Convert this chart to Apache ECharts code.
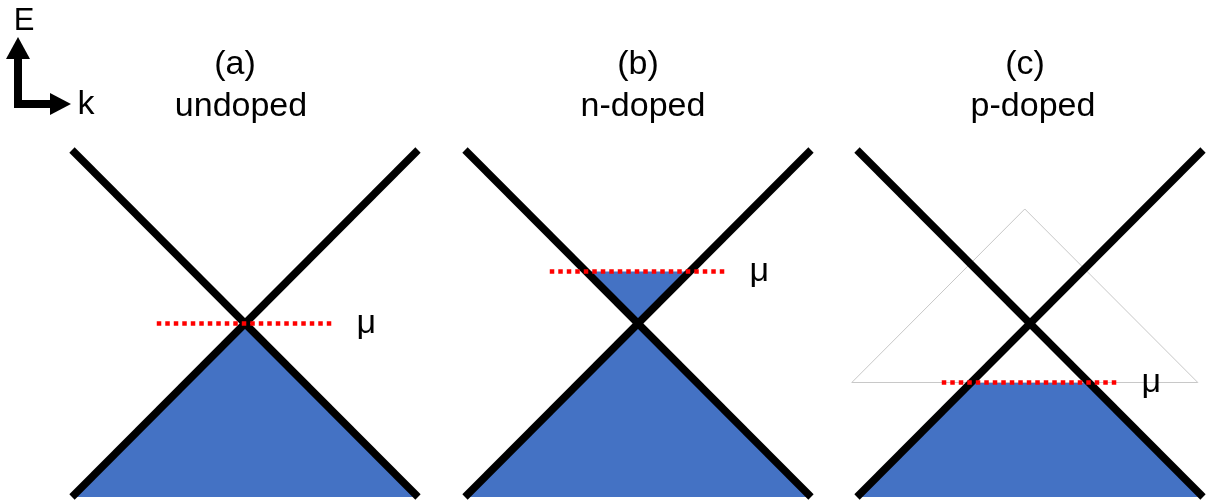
<!DOCTYPE html>
<html>
<head>
<meta charset="utf-8">
<script src="https://cdn.jsdelivr.net/npm/echarts@6/dist/echarts.min.js"></script>
<style>
  html, body { margin: 0; padding: 0; background: #ffffff; }
  #chart { width: 1209px; height: 504px; }
</style>
</head>
<body>
<div id="chart"></div>
<script>
// Panel captions
const panelTags = ['(a)', '(b)', '(c)'];
const panelNames = ['undoped', 'n-doped', 'p-doped'];

// Chemical potential of each panel, relative to the Dirac point (units of cone half-height)
const chemicalPotential = [0, 0.30, -0.34];
// Empty (hole) cone outline drawn above μ in the p-doped panel
const showHoleCone = [false, false, true];
const holeConeCenterK = -0.03;
const holeConeHeight = 1;

// Cone branches E = ±k over this momentum range
const kRange = [-1, 1];
// Half-length of the dotted μ marker and where its label sits (in k)
const muHalfWidth = 0.51;
const muLabelK = 0.645;

const muLabel = 'μ';
const axisNames = ['E', 'k'];

// ---- layout / style ----
const gridLefts = [72, 465, 857];
const gridTop = 150, gridW = 346, gridH = 347;
const tagX = [235, 638, 1025];
const nameX = [241, 643, 1033];
const BLUE = '#4472C4';
const FONT = '"Liberation Sans", Arial, sans-serif';

const grids = [], xAxes = [], yAxes = [], series = [];

function coneFill(mu) {
  return function (params, api) {
    const pts = arr => arr.map(q => api.coord(q));
    const style = { fill: BLUE };
    const shapes = [];
    if (mu >= 0) {
      shapes.push({ type: 'polygon', shape: { points: pts([[kRange[0], kRange[0]], [0, 0], [kRange[1], kRange[0]]]) }, style });
      if (mu > 0) {
        shapes.push({ type: 'polygon', shape: { points: pts([[0, 0], [-mu, mu], [mu, mu]]) }, style });
      }
    } else {
      shapes.push({ type: 'polygon', shape: { points: pts([[kRange[0], kRange[0]], [mu, mu], [-mu, mu], [kRange[1], kRange[0]]]) }, style });
    }
    return { type: 'group', children: shapes };
  };
}

function holeCone(mu) {
  return function (params, api) {
    const c = holeConeCenterK;
    const points = [[c - holeConeHeight, mu], [c, mu + holeConeHeight], [c + holeConeHeight, mu]].map(q => api.coord(q));
    return {
      type: 'polygon',
      shape: { points },
      style: { fill: 'none', stroke: '#c8c8c8', lineWidth: 1 }
    };
  };
}

function muText(mu) {
  return function (params, api) {
    const p = api.coord([muLabelK, mu]);
    return {
      type: 'text',
      x: p[0], y: p[1],
      style: { text: muLabel, fill: '#000', font: '34px ' + FONT, textAlign: 'left', textVerticalAlign: 'middle' }
    };
  };
}

panelTags.forEach((tag, i) => {
  const mu = chemicalPotential[i];
  grids.push({ left: gridLefts[i], top: gridTop, width: gridW, height: gridH });
  xAxes.push({ gridIndex: i, type: 'value', min: kRange[0], max: kRange[1], show: false });
  yAxes.push({ gridIndex: i, type: 'value', min: kRange[0], max: kRange[1], show: false });

  series.push({
    type: 'custom', xAxisIndex: i, yAxisIndex: i, z: 1, silent: true,
    data: [0], renderItem: coneFill(mu)
  });
  if (showHoleCone[i]) {
    series.push({
      type: 'custom', xAxisIndex: i, yAxisIndex: i, z: 2, silent: true,
      data: [0], renderItem: holeCone(mu)
    });
  }
  [1, -1].forEach(sign => {
    series.push({
      type: 'line', xAxisIndex: i, yAxisIndex: i, z: 3, clip: false, symbol: 'none', silent: true,
      data: kRange.map(k => [k, sign * k]),
      lineStyle: { color: '#000', width: 7.5, cap: 'butt' }
    });
  });
  series.push({
    type: 'line', xAxisIndex: i, yAxisIndex: i, z: 4, clip: false, symbol: 'none', silent: true,
    data: [[-muHalfWidth, mu], [muHalfWidth, mu]],
    lineStyle: { color: '#ff0000', width: 4.5, type: [4.5, 4], cap: 'butt' }
  });
  series.push({
    type: 'custom', xAxisIndex: i, yAxisIndex: i, z: 5, silent: true,
    data: [0], renderItem: muText(mu)
  });
});

// Captions above each panel
const graphics = [];
panelTags.forEach((tag, i) => {
  graphics.push({ type: 'text', x: tagX[i], y: 65, style: { text: tag, font: '34px ' + FONT, fill: '#000', textAlign: 'center', textVerticalAlign: 'middle' } });
  graphics.push({ type: 'text', x: nameX[i], y: 107, style: { text: panelNames[i], font: '34px ' + FONT, fill: '#000', textAlign: 'center', textVerticalAlign: 'middle' } });
});

// E–k orientation glyph in the top-left corner
graphics.push(
  { type: 'polyline', shape: { points: [[18, 56], [18, 104], [52, 104]] }, style: { stroke: '#000', lineWidth: 8, fill: null, lineJoin: 'miter' } },
  { type: 'polygon', shape: { points: [[6, 59], [30, 59], [18, 37]] }, style: { fill: '#000' } },
  { type: 'polygon', shape: { points: [[50, 93], [50, 115], [71, 104]] }, style: { fill: '#000' } },
  { type: 'text', x: 24, y: 21, style: { text: axisNames[0], font: '31px ' + FONT, fill: '#000', textAlign: 'center', textVerticalAlign: 'middle' } },
  { type: 'text', x: 86, y: 105, style: { text: axisNames[1], font: '34px ' + FONT, fill: '#000', textAlign: 'center', textVerticalAlign: 'middle' } }
);

const chart = echarts.init(document.getElementById('chart'), null, { renderer: 'canvas' });
chart.setOption({
  animation: false,
  backgroundColor: '#ffffff',
  grid: grids,
  xAxis: xAxes,
  yAxis: yAxes,
  series: series,
  graphic: graphics
});
</script>
</body>
</html>
